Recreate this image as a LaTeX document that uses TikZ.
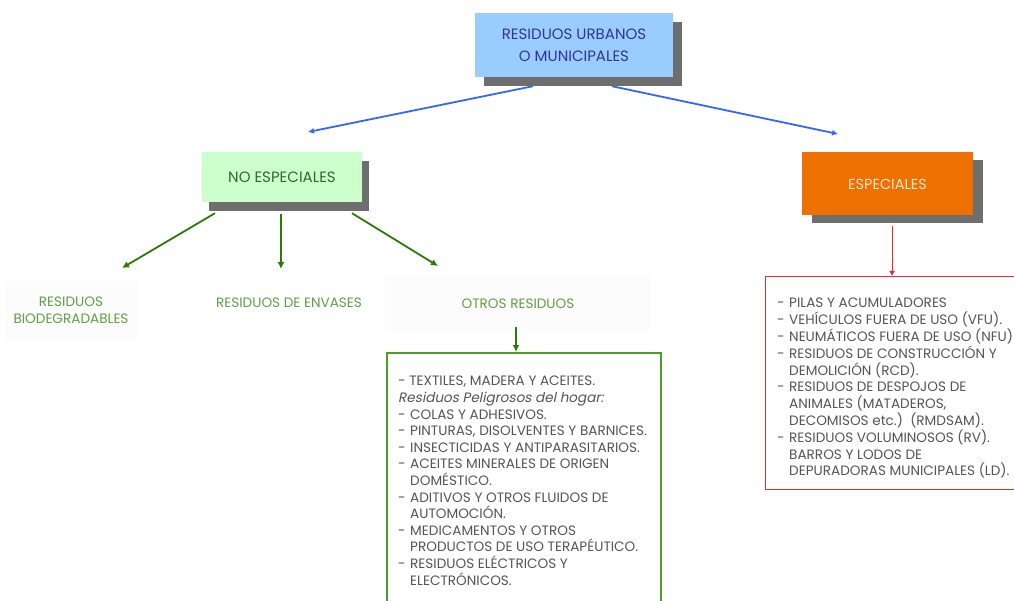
\documentclass[tikz,border=0pt]{standalone}
\usepackage{fontspec}
\setmainfont{Poppins}
\newfontfamily\slfont[FakeSlant=0.2]{Poppins}
\usetikzlibrary{shadows,arrows.meta}
\definecolor{topfill}{HTML}{99CCFF}
\definecolor{toptext}{HTML}{333399}
\definecolor{nofill}{HTML}{CCFFCC}
\definecolor{notext}{HTML}{336633}
\definecolor{orangefill}{HTML}{EE7000}
\definecolor{orangetext}{HTML}{FFE8D0}
\definecolor{shadowgray}{HTML}{6E6E6E}
\definecolor{bluearrow}{HTML}{3366FF}
\definecolor{greenarrow}{HTML}{2F7A05}
\definecolor{labeltext}{HTML}{5FA040}
\definecolor{greenborder}{HTML}{4E9A2A}
\definecolor{bodytext}{HTML}{555555}
\definecolor{redline}{HTML}{EE2A2A}
\definecolor{panelfill}{HTML}{FCFCFC}
\newcommand{\dl}[1]{\makebox[12pt][l]{-}#1}
\newcommand{\cl}[1]{\hspace*{12pt}#1}
\begin{document}
\begin{tikzpicture}[x=1pt,y=-1pt,
  boxbase/.style={rectangle, inner sep=0pt, align=center},
  shadowed/.style 2 args={drop shadow={shadow xshift=#1, shadow yshift=#2, fill=shadowgray, opacity=1}},
  panel/.style={rectangle, inner sep=0pt, fill=panelfill, align=center, text=labeltext, font=\fontsize{13.6}{17}\selectfont},
  bluearr/.style={draw=bluearrow, line width=1.8pt, -{Latex[length=6pt,width=6pt]}},
  greenarr/.style={draw=greenarrow, line width=1.8pt, -{Latex[length=7pt,width=7pt]}},
  redarr/.style={draw=redline, line width=1pt, -{Latex[length=5pt,width=6pt]}},
  bodystyle/.style={inner sep=0pt, align=left, text=bodytext, anchor=north west}
]
\useasboundingbox (0,0) rectangle (1014,601);
\fill[white] (0,0) rectangle (1014,601);

% top box
\node[boxbase, fill=topfill, text=toptext, minimum width=198pt, minimum height=64pt,
  shadowed={9pt}{-9pt}, font=\fontsize{15}{22}\selectfont] (top) at (574,45.5)
  {RESIDUOS URBANOS\\O MUNICIPALES};

% no especiales
\node[boxbase, fill=nofill, text=notext, minimum width=160pt, minimum height=50pt,
  shadowed={7pt}{-9pt}, font=\fontsize{15}{18}\selectfont] (no) at (282,177)
  {NO ESPECIALES};

% especiales
\node[boxbase, fill=orangefill, text=orangetext, minimum width=171pt, minimum height=63pt,
  shadowed={10pt}{-8pt}, font=\fontsize{14.5}{18}\selectfont] (esp) at (887.5,184)
  {ESPECIALES};

% label panels
\node[panel, minimum width=133pt, minimum height=58pt] (bio) at (71,310)
  {RESIDUOS\\BIODEGRADABLES};
\node[panel, fill=white, minimum width=230pt, minimum height=58pt] (env) at (289,303)
  {RESIDUOS DE ENVASES};
\node[panel, minimum width=266pt, minimum height=56pt] (otros) at (518,303.5)
  {OTROS RESIDUOS};

% green box
\node[rectangle, draw=greenborder, line width=1.6pt, minimum width=274pt, minimum height=262pt,
  anchor=north west, inner sep=0pt] (gbox) at (386,352) {};
\node[bodystyle, font=\fontsize{13.6}{16.6}\selectfont] (gtext) at (398,376)
 {- TEXTILES, MADERA Y ACEITES.\\
  {\slfont Residuos Peligrosos del hogar:}\\
  \dl{COLAS Y ADHESIVOS.}\\
  \dl{PINTURAS, DISOLVENTES Y BARNICES.}\\
  \dl{INSECTICIDAS Y ANTIPARASITARIOS.}\\
  \dl{ACEITES MINERALES DE ORIGEN}\\
  \cl{DOMÉSTICO.}\\
  \dl{ADITIVOS Y OTROS FLUIDOS DE}\\
  \cl{AUTOMOCIÓN.}\\
  \dl{MEDICAMENTOS Y OTROS}\\
  \cl{PRODUCTOS DE USO TERAPÉUTICO.}\\
  \dl{RESIDUOS ELÉCTRICOS Y}\\
  \cl{ELECTRÓNICOS.}};

% red box
\node[rectangle, draw=redline, line width=1.3pt, minimum width=262pt, minimum height=213pt,
  anchor=north west, inner sep=0pt] (rbox) at (765,276) {};
\node[bodystyle, font=\fontsize{13.6}{16.8}\selectfont] (rtext) at (777,298)
 {\dl{PILAS Y ACUMULADORES}\\
  \dl{VEHÍCULOS FUERA DE USO (VFU).}\\
  \dl{NEUMÁTICOS FUERA DE USO (NFU)}\\
  \dl{RESIDUOS DE CONSTRUCCIÓN Y}\\
  \cl{DEMOLICIÓN (RCD).}\\
  \dl{RESIDUOS DE DESPOJOS DE}\\
  \cl{ANIMALES (MATADEROS,}\\
  \cl{DECOMISOS etc.)\ \ (RMDSAM).}\\
  \dl{RESIDUOS VOLUMINOSOS (RV).}\\
  \cl{BARROS Y LODOS DE}\\
  \cl{DEPURADORAS MUNICIPALES (LD).}};

% connectors
\coordinate (tl) at (308,132);
\coordinate (tr) at (838,134);
\draw[bluearr] ([xshift=-41pt,yshift=-8.5pt]top.south) -- (tl);
\draw[bluearr] ([xshift=38pt,yshift=-8.5pt]top.south) -- (tr);

\coordinate (b1) at (122,268);
\coordinate (b2) at (281,269);
\coordinate (b3) at (438,266);
\draw[greenarr] ([xshift=-67pt,yshift=-11pt]no.south) -- (b1);
\draw[greenarr] ([xshift=-1pt,yshift=-12pt]no.south) -- (b2);
\draw[greenarr] ([xshift=70pt,yshift=-11pt]no.south) -- (b3);
\draw[greenarr] ([xshift=-2pt,yshift=5pt]otros.south) -- ([xshift=130pt]gbox.north west);

\draw[redarr] ([xshift=4.5pt,yshift=-10pt]esp.south) -- ([xshift=127pt]rbox.north west);
\end{tikzpicture}
\end{document}
